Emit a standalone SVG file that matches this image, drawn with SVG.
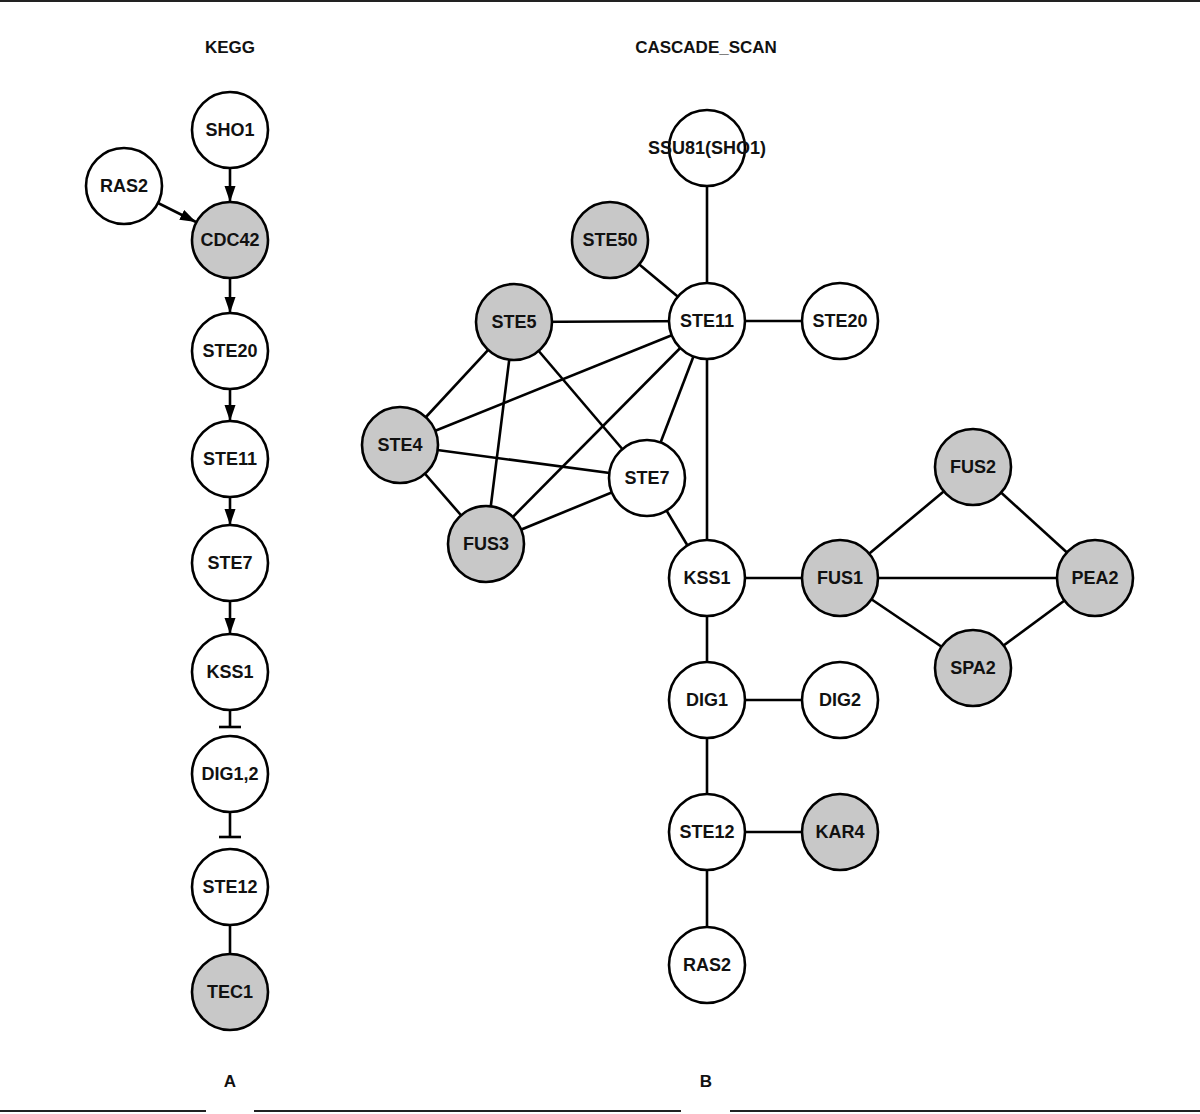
<svg xmlns="http://www.w3.org/2000/svg" width="1200" height="1114" viewBox="0 0 1200 1114">
<defs>
<style>
.n{stroke:#000;stroke-width:2.6;fill:#fff}
.g{fill:#c8c8c8}
.t{font-family:"Liberation Sans",Arial,sans-serif;font-weight:bold;font-size:18px;text-anchor:middle;dominant-baseline:central;fill:#111}
.h{font-family:"Liberation Sans",Arial,sans-serif;font-weight:bold;font-size:17px;text-anchor:middle;fill:#111}
.e{stroke:#000;stroke-width:2.6;fill:none}
</style>
<marker id="arr" markerUnits="userSpaceOnUse" markerWidth="17" markerHeight="12" refX="16" refY="5.5" orient="auto">
<path d="M0,0 L16,5.5 L0,11 z" fill="#000"/>
</marker>
</defs>
<rect width="1200" height="1114" fill="#fff"/>
<line x1="0" y1="1" x2="1200" y2="1" stroke="#222" stroke-width="2"/>
<g stroke="#222" stroke-width="2">
<line x1="0" y1="1111" x2="206" y2="1111"/>
<line x1="254" y1="1111" x2="681" y2="1111"/>
<line x1="730" y1="1111" x2="1200" y2="1111"/>
</g>
<text class="h" x="230" y="53">KEGG</text>
<text class="h" x="706" y="53">CASCADE_SCAN</text>
<text class="h" x="230" y="1087">A</text>
<text class="h" x="706" y="1087">B</text>
<g id="connectors">
<line class="e" x1="230" y1="168" x2="230" y2="202" marker-end="url(#arr)"/>
<line class="e" x1="158" y1="203" x2="196" y2="222" marker-end="url(#arr)"/>
<line class="e" x1="230" y1="278" x2="230" y2="313" marker-end="url(#arr)"/>
<line class="e" x1="230" y1="389" x2="230" y2="421" marker-end="url(#arr)"/>
<line class="e" x1="230" y1="497" x2="230" y2="525" marker-end="url(#arr)"/>
<line class="e" x1="230" y1="601" x2="230" y2="634" marker-end="url(#arr)"/>
<line class="e" x1="230" y1="710" x2="230" y2="727"/>
<line class="e" x1="219" y1="727" x2="241" y2="727"/>
<line class="e" x1="230" y1="812" x2="230" y2="837"/>
<line class="e" x1="219" y1="837" x2="241" y2="837"/>
<line class="e" x1="230" y1="925" x2="230" y2="954"/>
<line class="e" x1="707" y1="148" x2="707" y2="321"/>
<line class="e" x1="610" y1="240" x2="707" y2="321"/>
<line class="e" x1="514" y1="322" x2="707" y2="321"/>
<line class="e" x1="707" y1="321" x2="840" y2="321"/>
<line class="e" x1="707" y1="321" x2="400" y2="445"/>
<line class="e" x1="707" y1="321" x2="486" y2="544"/>
<line class="e" x1="707" y1="321" x2="647" y2="478"/>
<line class="e" x1="707" y1="321" x2="707" y2="578"/>
<line class="e" x1="514" y1="322" x2="400" y2="445"/>
<line class="e" x1="514" y1="322" x2="486" y2="544"/>
<line class="e" x1="514" y1="322" x2="647" y2="478"/>
<line class="e" x1="400" y1="445" x2="647" y2="478"/>
<line class="e" x1="400" y1="445" x2="486" y2="544"/>
<line class="e" x1="486" y1="544" x2="647" y2="478"/>
<line class="e" x1="647" y1="478" x2="707" y2="578"/>
<line class="e" x1="707" y1="578" x2="840" y2="578"/>
<line class="e" x1="840" y1="578" x2="973" y2="467"/>
<line class="e" x1="840" y1="578" x2="1095" y2="578"/>
<line class="e" x1="840" y1="578" x2="973" y2="668"/>
<line class="e" x1="973" y1="467" x2="1095" y2="578"/>
<line class="e" x1="973" y1="668" x2="1095" y2="578"/>
<line class="e" x1="707" y1="578" x2="707" y2="700"/>
<line class="e" x1="707" y1="700" x2="840" y2="700"/>
<line class="e" x1="707" y1="700" x2="707" y2="832"/>
<line class="e" x1="707" y1="832" x2="840" y2="832"/>
<line class="e" x1="707" y1="832" x2="707" y2="965"/>
</g>
<g id="kegg_SHO1"><circle class="n" cx="230" cy="130" r="38"/><text class="t" x="230" y="130">SHO1</text></g>
<g id="kegg_RAS2"><circle class="n" cx="124" cy="186" r="38"/><text class="t" x="124" y="186">RAS2</text></g>
<g id="kegg_CDC42"><circle class="n g" cx="230" cy="240" r="38"/><text class="t" x="230" y="240">CDC42</text></g>
<g id="kegg_STE20"><circle class="n" cx="230" cy="351" r="38"/><text class="t" x="230" y="351">STE20</text></g>
<g id="kegg_STE11"><circle class="n" cx="230" cy="459" r="38"/><text class="t" x="230" y="459">STE11</text></g>
<g id="kegg_STE7"><circle class="n" cx="230" cy="563" r="38"/><text class="t" x="230" y="563">STE7</text></g>
<g id="kegg_KSS1"><circle class="n" cx="230" cy="672" r="38"/><text class="t" x="230" y="672">KSS1</text></g>
<g id="kegg_DIG12"><circle class="n" cx="230" cy="774" r="38"/><text class="t" x="230" y="774">DIG1,2</text></g>
<g id="kegg_STE12"><circle class="n" cx="230" cy="887" r="38"/><text class="t" x="230" y="887">STE12</text></g>
<g id="kegg_TEC1"><circle class="n g" cx="230" cy="992" r="38"/><text class="t" x="230" y="992">TEC1</text></g>
<g id="cs_SSU81"><circle class="n" cx="707" cy="148" r="38"/><text class="t" x="707" y="148">SSU81(SHO1)</text></g>
<g id="cs_STE50"><circle class="n g" cx="610" cy="240" r="38"/><text class="t" x="610" y="240">STE50</text></g>
<g id="cs_STE11"><circle class="n" cx="707" cy="321" r="38"/><text class="t" x="707" y="321">STE11</text></g>
<g id="cs_STE20"><circle class="n" cx="840" cy="321" r="38"/><text class="t" x="840" y="321">STE20</text></g>
<g id="cs_STE5"><circle class="n g" cx="514" cy="322" r="38"/><text class="t" x="514" y="322">STE5</text></g>
<g id="cs_STE4"><circle class="n g" cx="400" cy="445" r="38"/><text class="t" x="400" y="445">STE4</text></g>
<g id="cs_STE7"><circle class="n" cx="647" cy="478" r="38"/><text class="t" x="647" y="478">STE7</text></g>
<g id="cs_FUS3"><circle class="n g" cx="486" cy="544" r="38"/><text class="t" x="486" y="544">FUS3</text></g>
<g id="cs_KSS1"><circle class="n" cx="707" cy="578" r="38"/><text class="t" x="707" y="578">KSS1</text></g>
<g id="cs_FUS1"><circle class="n g" cx="840" cy="578" r="38"/><text class="t" x="840" y="578">FUS1</text></g>
<g id="cs_FUS2"><circle class="n g" cx="973" cy="467" r="38"/><text class="t" x="973" y="467">FUS2</text></g>
<g id="cs_PEA2"><circle class="n g" cx="1095" cy="578" r="38"/><text class="t" x="1095" y="578">PEA2</text></g>
<g id="cs_SPA2"><circle class="n g" cx="973" cy="668" r="38"/><text class="t" x="973" y="668">SPA2</text></g>
<g id="cs_DIG1"><circle class="n" cx="707" cy="700" r="38"/><text class="t" x="707" y="700">DIG1</text></g>
<g id="cs_DIG2"><circle class="n" cx="840" cy="700" r="38"/><text class="t" x="840" y="700">DIG2</text></g>
<g id="cs_STE12"><circle class="n" cx="707" cy="832" r="38"/><text class="t" x="707" y="832">STE12</text></g>
<g id="cs_KAR4"><circle class="n g" cx="840" cy="832" r="38"/><text class="t" x="840" y="832">KAR4</text></g>
<g id="cs_RAS2"><circle class="n" cx="707" cy="965" r="38"/><text class="t" x="707" y="965">RAS2</text></g>
</svg>
